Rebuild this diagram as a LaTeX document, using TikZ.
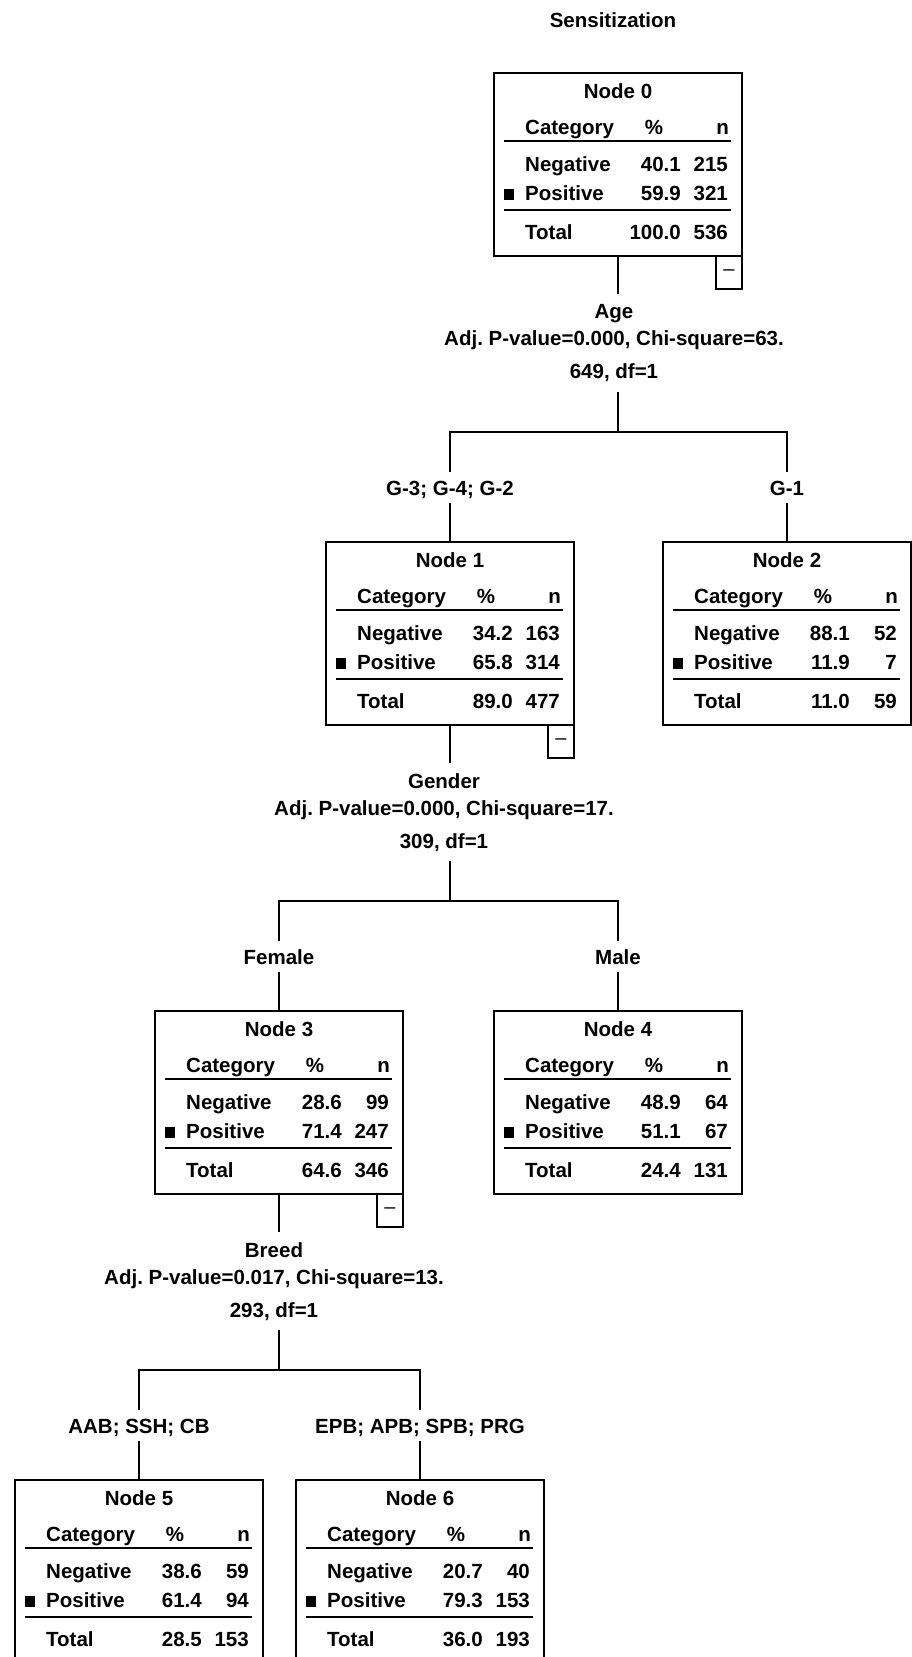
\documentclass[tikz,border=0pt]{standalone}
\usepackage{fontspec}
\setmainfont{Liberation Sans}
\usetikzlibrary{calc}
\frenchspacing

% one node of the tree: name, (x,top), number, then % and n of Negative, Positive, Total
\newcommand{\statbox}[9]{%
  \node[box, anchor=north] (#1) at (#2) {};
  \node[txt, anchor=base] (#1-title) at ($(#1.north)+(0,25)$) {Node #3};
  \node[txt, anchor=base west] (#1-cat) at ($(#1.north west)+(31,61)$) {Category};
  \node[txt, anchor=base] (#1-pct) at ($(#1.north west)+(160,61)$) {\%};
  \node[txt, anchor=base east] (#1-n) at ($(#1.north west)+(235,61)$) {n};
  \draw[rule] ($(#1.north west)+(10,68)$) -- ++(227,0);
  \node[txt, anchor=base west] (#1-neg) at ($(#1.north west)+(31,98)$) {Negative};
  \node[txt, anchor=base east] (#1-negp) at ($(#1.north west)+(187,98)$) {#4};
  \node[txt, anchor=base east] (#1-negn) at ($(#1.north west)+(234,98)$) {#5};
  \fill ($(#1.north west)+(10,116)$) rectangle ++(10,11);
  \node[txt, anchor=base west] (#1-pos) at ($(#1.north west)+(31,127)$) {Positive};
  \node[txt, anchor=base east] (#1-posp) at ($(#1.north west)+(187,127)$) {#6};
  \node[txt, anchor=base east] (#1-posn) at ($(#1.north west)+(234,127)$) {#7};
  \draw[rule] ($(#1.north west)+(10,137)$) -- ++(227,0);
  \node[txt, anchor=base west] (#1-tot) at ($(#1.north west)+(31,166)$) {Total};
  \node[txt, anchor=base east] (#1-totp) at ($(#1.north west)+(187,166)$) {#8};
  \node[txt, anchor=base east] (#1-totn) at ($(#1.north west)+(234,166)$) {#9};
}

\begin{document}
\begin{tikzpicture}[x=1pt, y=-1pt,
font=\fontsize{20.5pt}{27pt}\selectfont\bfseries,
box/.style={draw, line width=1.6pt, minimum width=248pt, minimum height=183pt, inner sep=0pt, outer sep=0pt},
txt/.style={inner sep=0pt},
rule/.style={line width=1.6pt},
link/.style={line width=1.6pt},
fold/.style={draw, line width=1.6pt, minimum width=26pt, minimum height=33pt, inner sep=0pt, outer sep=0pt, font=\fontsize{20pt}{24pt}\selectfont\mdseries},
split/.style={align=center, inner xsep=0pt, inner ysep=10pt},
branch/.style={inner xsep=0pt, inner ysep=8pt, text height=15pt, text depth=0pt}
]
\useasboundingbox (0,0) rectangle (912,1657);
\clip (0,0) rectangle (912,1657);

\node[txt, anchor=base] (title) at (613,27) {Sensitization};

% root and the split on Age
\statbox{n0}{618,73}{0}{40.1}{215}{59.9}{321}{100.0}{536}
\node[fold, anchor=north east] (c0) at (n0.south east) {\textendash};
\node[split, anchor=north] (age) at (614,294) {Age\\Adj. P-value=0.000, Chi-square=63.\\[6pt]649, df=1};
\coordinate (j0) at ($(n0.south)+(0,176)$);
\node[branch, anchor=north] (g342) at (450,472) {G-3; G-4; G-2};
\node[branch, anchor=north] (g1) at (787,472) {G-1};
\statbox{n1}{450,542}{1}{34.2}{163}{65.8}{314}{89.0}{477}
\statbox{n2}{787,542}{2}{88.1}{52}{11.9}{7}{11.0}{59}

\draw[link] (n0.south) -- (n0.south |- age.north);
\draw[link] (n0.south |- age.south) -- (j0);
\draw[link] (g342.north) |- (j0) -| (g1.north);
\draw[link] (g342.south) -- (n1.north);
\draw[link] (g1.south) -- (n2.north);

% split on Gender
\node[fold, anchor=north east] (c1) at (n1.south east) {\textendash};
\node[split, anchor=north] (gender) at (444,763) {Gender\\Adj. P-value=0.000, Chi-square=17.\\[6pt]309, df=1};
\coordinate (j1) at ($(n1.south)+(0,176)$);
\node[branch, anchor=north] (female) at (279,941) {Female};
\node[branch, anchor=north] (male) at (618,941) {Male};
\statbox{n3}{279,1011}{3}{28.6}{99}{71.4}{247}{64.6}{346}
\statbox{n4}{618,1011}{4}{48.9}{64}{51.1}{67}{24.4}{131}

\draw[link] (n1.south) -- (n1.south |- gender.north);
\draw[link] (n1.south |- gender.south) -- (j1);
\draw[link] (female.north) |- (j1) -| (male.north);
\draw[link] (female.south) -- (n3.north);
\draw[link] (male.south) -- (n4.north);

% split on Breed
\node[fold, anchor=north east] (c3) at (n3.south east) {\textendash};
\node[split, anchor=north] (breed) at (274,1232) {Breed\\Adj. P-value=0.017, Chi-square=13.\\[6pt]293, df=1};
\coordinate (j3) at ($(n3.south)+(0,176)$);
\node[branch, anchor=north] (aab) at (139,1410) {AAB; SSH; CB};
\node[branch, anchor=north] (epb) at (420,1410) {EPB; APB; SPB; PRG};
\statbox{n5}{139,1480}{5}{38.6}{59}{61.4}{94}{28.5}{153}
\statbox{n6}{420,1480}{6}{20.7}{40}{79.3}{153}{36.0}{193}

\draw[link] (n3.south) -- (n3.south |- breed.north);
\draw[link] (n3.south |- breed.south) -- (j3);
\draw[link] (aab.north) |- (j3) -| (epb.north);
\draw[link] (aab.south) -- (n5.north);
\draw[link] (epb.south) -- (n6.north);

\end{tikzpicture}
\end{document}
